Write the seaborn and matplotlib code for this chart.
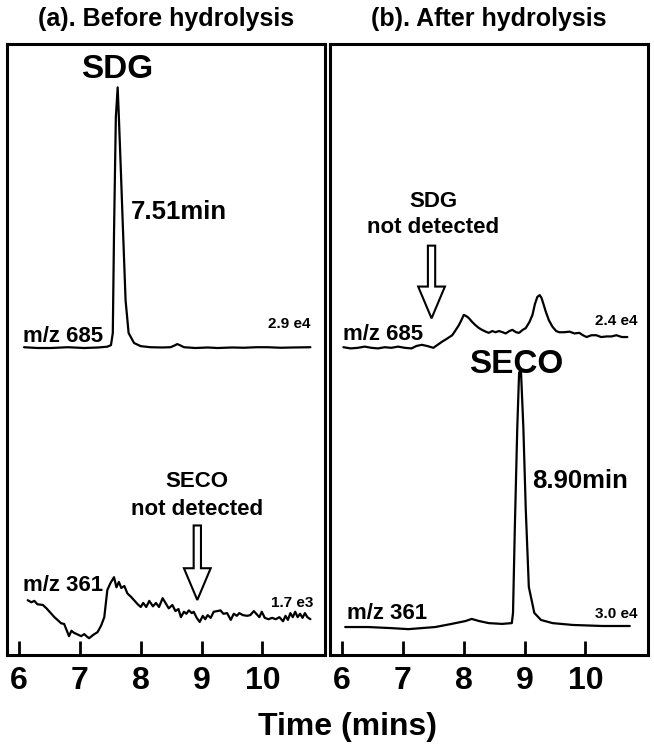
import numpy as np
import seaborn as sns
import matplotlib.pyplot as plt
from matplotlib.patches import FancyArrow

# ---------------------------------------------------------------------------#
# relative intensity (% of full scale)

# (a) before hydrolysis, m/z 685 (full scale 2.9 e4)
a685_t = [6.08, 6.3, 6.52, 6.8, 7.07, 7.3, 7.45, 7.51, 7.54, 7.56, 7.59, 7.62,
          7.64, 7.67, 7.70, 7.75, 7.80, 7.89, 8.0, 8.16, 8.35, 8.49, 8.56, 8.60,
          8.65, 8.71, 8.9, 9.1, 9.26, 9.5, 9.7, 9.9, 10.08, 10.3, 10.5, 10.79]
a685_i = [1.1, 0.8, 0.8, 1.1, 0.8, 1.0, 1.3, 1.9, 6.5, 44.5, 88.6, 100,
          88.6, 70, 50.6, 19, 6.5, 2.7, 1.5, 1.1, 1.0, 1.1, 1.8, 2.3,
          1.8, 1.1, 0.8, 1.0, 0.8, 1.0, 0.9, 1.1, 1.1, 0.9, 1.0, 1.1]

# (a) before hydrolysis, m/z 361 (full scale 1.7 e3)
a361_t = [6.14, 6.20, 6.25, 6.30, 6.39, 6.45, 6.52, 6.58, 6.63, 6.69, 6.74, 6.78,
          6.82, 6.86, 6.90, 6.95, 7.02, 7.07, 7.12, 7.15, 7.22, 7.29, 7.35, 7.40,
          7.45, 7.50, 7.56, 7.60, 7.64, 7.68, 7.73, 7.78, 7.84, 7.89, 7.95, 8.00,
          8.04, 8.09, 8.14, 8.20, 8.25, 8.30, 8.36, 8.42, 8.46, 8.52, 8.57, 8.62,
          8.66, 8.71, 8.75, 8.79, 8.84, 8.87, 8.92, 8.97, 9.02, 9.06, 9.10, 9.15,
          9.20, 9.26, 9.31, 9.36, 9.42, 9.48, 9.53, 9.58, 9.62, 9.68, 9.75, 9.80,
          9.86, 9.90, 9.95, 9.99, 10.04, 10.10, 10.16, 10.22, 10.28, 10.34, 10.38,
          10.42, 10.46, 10.50, 10.54, 10.58, 10.62, 10.66, 10.70, 10.74, 10.79]
a361_i = [66, 63, 65, 60, 59, 54, 47, 41, 37, 32, 31, 22,
          13, 21, 18, 16, 13, 16, 12, 10, 15, 19, 29, 41,
          81, 91, 100, 85, 93, 84, 87, 76, 71, 66, 60, 56,
          62, 56, 65, 57, 62, 56, 69, 60, 54, 59, 50, 53,
          41, 49, 46, 51, 47, 49, 40, 34, 43, 38, 44, 40,
          49, 50, 51, 46, 47, 37, 46, 43, 47, 44, 43, 44,
          50, 46, 41, 49, 40, 38, 40, 38, 41, 35, 43,
          37, 47, 41, 49, 41, 46, 40, 47, 41, 38]

# (b) after hydrolysis, m/z 685 (full scale 2.4 e4)
b685_t = [6.02, 6.14, 6.26, 6.37, 6.48, 6.59, 6.70, 6.81, 6.92, 7.03, 7.14, 7.22,
          7.31, 7.40, 7.50, 7.57, 7.64, 7.72, 7.81, 7.87, 7.92, 7.96, 8.00, 8.04,
          8.08, 8.14, 8.19, 8.25, 8.30, 8.36, 8.41, 8.47, 8.52, 8.58, 8.64, 8.69,
          8.75, 8.80, 8.86, 8.91, 8.97, 9.02, 9.08, 9.13, 9.17, 9.21, 9.25, 9.28,
          9.32, 9.35, 9.40, 9.46, 9.52, 9.57, 9.65, 9.74, 9.82, 9.90, 9.96, 10.02,
          10.10, 10.18, 10.26, 10.35, 10.43, 10.51, 10.60, 10.69]
b685_i = [13, 11, 12, 14, 12, 11, 13, 12, 14, 12, 11, 15,
          17, 15, 12, 17, 22, 27, 33, 42, 50, 58, 67, 65,
          62, 55, 50, 45, 42, 39, 37, 40, 38, 40, 38, 36,
          40, 42, 38, 37, 42, 45, 55, 67, 85, 97, 100, 95,
          82, 72, 58, 47, 40, 38, 38, 39, 36, 37, 33, 30,
          33, 33, 30, 31, 31, 33, 30, 30]

# (b) after hydrolysis, m/z 361 (full scale 3.0 e4)
b361_t = [6.05, 6.43, 6.8, 7.09, 7.53, 7.80, 8.03, 8.13, 8.25, 8.41, 8.63, 8.79,
          8.81, 8.84, 8.88, 8.91, 8.94, 8.98, 9.02, 9.07, 9.16, 9.27, 9.46, 9.79,
          10.28, 10.73]
b361_i = [1.9, 1.9, 1.5, 1.1, 1.9, 3.1, 4.2, 5.0, 4.2, 3.4, 3.1, 3.4,
          7.3, 40, 78, 98.9, 100, 78, 46.6, 17.2, 7.3, 4.6, 3.4, 2.7,
          2.3, 2.3]

ticks = [6, 7, 8, 9, 10]

# ---------------------------------------------------------------------------#

sns.set_style("white")
plt.rcParams['font.family'] = ['Liberation Sans', 'DejaVu Sans']
plt.rcParams['font.weight'] = 'bold'
plt.rcParams['text.color'] = 'black'
plt.rcParams['xtick.color'] = 'black'

fig = plt.figure(figsize=(6.54, 7.5), dpi=100)
ax_a = fig.add_axes([7 / 654, 95 / 750, 318 / 654, 611 / 750])
ax_b = fig.add_axes([330 / 654, 95 / 750, 318 / 654, 611 / 750])


def trace(ax, t, inten, base, height):
    y = base + height * np.array(inten) / 100.0
    sns.lineplot(x=t, y=y, ax=ax, color='black', lw=1.6, sort=False)


def down_arrow(ax, x, top, tip):
    ax.add_patch(FancyArrow(x, top, 0, tip - top, width=0.12, head_width=0.44,
                            head_length=5.2, length_includes_head=True,
                            fc='white', ec='black', lw=1.5, zorder=3))


def label(ax, x, y, s, size, ha='left'):
    ax.text(x, y, s, fontsize=size, fontweight='bold', ha=ha, va='baseline')


trace(ax_a, a685_t, a685_i, 49.9, 43.0)
trace(ax_a, a361_t, a361_i, 1.64, 11.1)
trace(ax_b, b685_t, b685_i, 49.1, 9.8)
trace(ax_b, b361_t, b361_i, 3.76, 42.9)

for ax in (ax_a, ax_b):
    ax.set_xlim(5.8, 11.03)
    ax.set_ylim(0, 100)
    ax.set_xticks(ticks)
    ax.set_xticklabels([str(t) for t in ticks], fontsize=23, fontweight='bold')
    ax.set_yticks([])
    ax.tick_params(axis='x', direction='in', length=10, width=2, pad=8,
                   bottom=True, colors='black')
    for s in ax.spines.values():
        s.set_visible(True)
        s.set_linewidth(2.2)
        s.set_color('black')

ax_a.set_title("(a). Before hydrolysis", fontsize=18, fontweight='bold', pad=13)
ax_b.set_title("(b). After hydrolysis", fontsize=18, fontweight='bold', pad=13)

# panel (a) labels
label(ax_a, 7.62, 94.4, "SDG", 24, 'center')
label(ax_a, 7.84, 71.4, "7.51min", 18.5)
label(ax_a, 6.07, 51.2, "m/z 685", 16)
label(ax_a, 10.79, 53.5, "2.9 e4", 11, 'right')
label(ax_a, 6.07, 10.5, "m/z 361", 16)
label(ax_a, 10.84, 7.9, "1.7 e3", 11, 'right')
label(ax_a, 8.92, 27.5, "SECO", 16, 'center')
label(ax_a, 8.92, 22.9, "not detected", 16, 'center')
down_arrow(ax_a, 8.93, 21.2, 9.0)

# panel (b) labels
label(ax_b, 7.50, 73.3, "SDG", 16, 'center')
label(ax_b, 7.50, 69.1, "not detected", 16, 'center')
down_arrow(ax_b, 7.47, 67.0, 55.1)
label(ax_b, 6.02, 51.6, "m/z 685", 16)
label(ax_b, 10.86, 54.0, "2.4 e4", 11, 'right')
label(ax_b, 8.87, 46.2, "SECO", 24, 'center')
label(ax_b, 9.12, 27.3, "8.90min", 18.5)
label(ax_b, 6.08, 5.9, "m/z 361", 16)
label(ax_b, 10.86, 6.1, "3.0 e4", 11, 'right')

fig.text(347 / 654, 1 - 735 / 750, "Time (mins)", fontsize=23, fontweight='bold',
         ha='center', va='baseline')

plt.savefig("out.png", dpi=100)
